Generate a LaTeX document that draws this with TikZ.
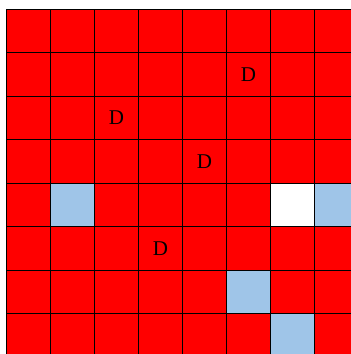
\documentclass[tikz,border=0pt]{standalone}
\usepackage{fontspec}
\setmainfont{Liberation Serif}
\usepackage{tikz}
\usetikzlibrary{positioning}
\definecolor{CellRed}{RGB}{255,0,0}
\definecolor{CellBlue}{RGB}{159,197,232}
\tikzset{
	cell/.style={draw=black, line width=0.9pt, fill=CellRed, minimum width=44pt, minimum height=43.5pt, inner sep=0pt, outer sep=0pt},
	bluecell/.style={cell, fill=CellBlue},
	emptycell/.style={cell, fill=white},
	dlabel/.style={text=black, font=\fontsize{21}{25}\selectfont, inner sep=0pt}
}

\begin{document}
\begin{tikzpicture}[x=1pt, y=-1pt]
		% picture frame (image is cropped at the right and bottom)
		\useasboundingbox (0,0) rectangle (351,354);
		\clip (0,0) rectangle (351,354);
		
		% red board
		\foreach \r in {0,...,7} {
			\foreach \c in {0,...,7} {
				\node[cell] (c-\r-\c) at ({28.5+44*\c},{30.75+43.5*\r}) {};
			}
		}
		
		% coloured cells
		\foreach \r/\c in {4/1, 4/7, 6/5, 7/6} {
			\node[bluecell] at (c-\r-\c) {};
		}
		\node[emptycell] at (c-4-6) {};
		
		% letters
		\node[dlabel] (d1) at (c-1-5) {D};
		\node[dlabel] (d2) at (c-2-2) {D};
		\node[dlabel] (d3) at (c-3-4) {D};
		\node[dlabel] (d4) at (c-5-3) {D};
	\end{tikzpicture}
\end{document}
